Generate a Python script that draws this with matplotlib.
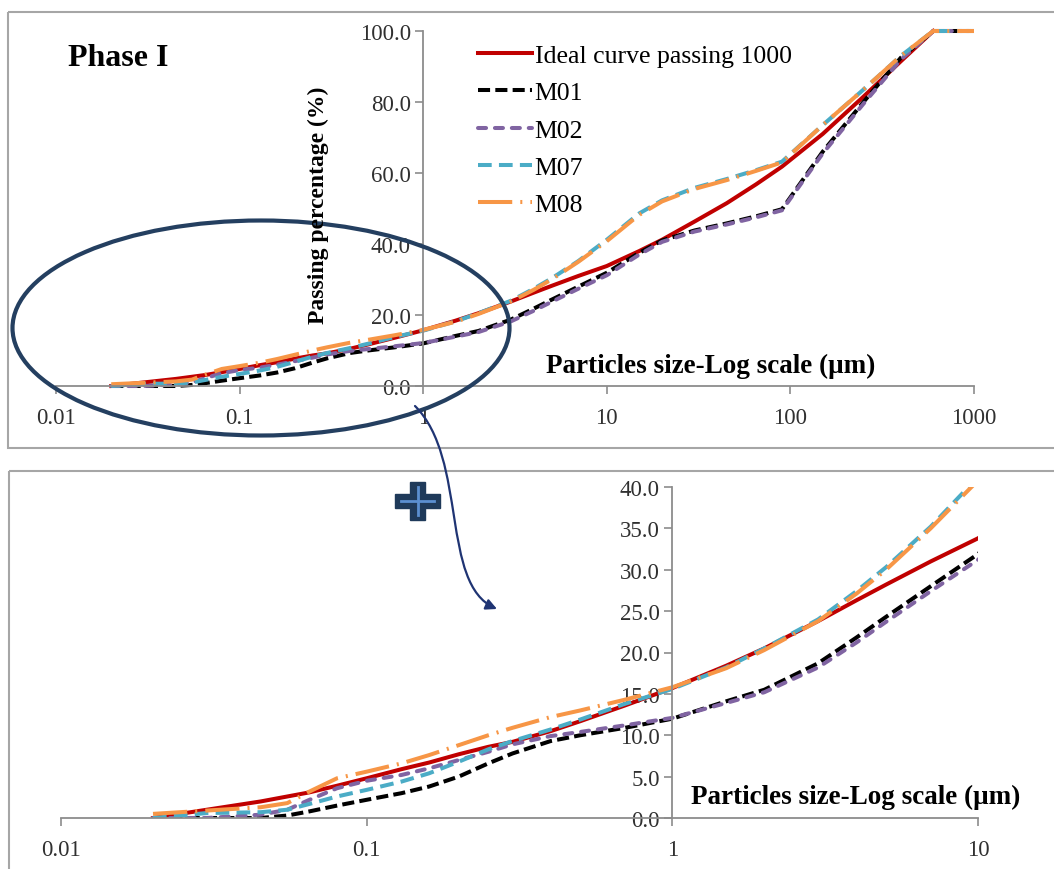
import matplotlib
matplotlib.use("Agg")
import matplotlib.pyplot as plt
from matplotlib.patches import Ellipse, Rectangle, FancyArrowPatch, Polygon
from matplotlib.path import Path
from matplotlib.ticker import NullLocator

plt.rcParams['font.family'] = ['Liberation Serif', 'DejaVu Serif']

W, H = 1054, 870

# particle size classes (um) and passing percentages
size_um = [0.02, 0.03, 0.045, 0.055, 0.065, 0.08, 0.1, 0.13, 0.16, 0.2, 0.25,
           0.3, 0.4, 0.5, 0.7, 1, 1.5, 2, 3, 4, 5, 7, 10, 15, 20, 30, 45, 65,
           90, 150, 250, 400, 600, 1000]
size_ideal = size_um[:-1]

ideal = [0.0, 1.0, 2.0, 2.6, 3.1, 3.9, 4.8, 5.9, 6.7, 7.7, 8.6, 9.2, 10.5,
         11.7, 13.6, 15.7, 18.4, 20.5, 23.8, 26.3, 28.2, 31.0, 33.8, 38.0,
         41.2, 46.3, 51.5, 56.8, 61.8, 71.0, 81.5, 91.5, 100.0]
m01 = [0.0, 0.0, 0.0, 0.3, 0.8, 1.5, 2.2, 3.0, 3.8, 5.0, 6.6, 7.8, 9.3, 10.0,
       10.9, 12.0, 14.1, 15.5, 18.7, 21.8, 24.3, 28.0, 31.9, 37.5, 41.0, 43.8,
       45.8, 47.8, 49.8, 66.0, 80.0, 92.5, 100.0, 100.0]
m02 = [0.0, 0.0, 0.4, 1.0, 2.2, 3.6, 4.5, 5.2, 6.0, 7.0, 8.0, 8.9, 9.9, 10.4,
       11.2, 12.1, 13.9, 15.2, 18.2, 21.2, 23.7, 27.4, 31.2, 37.0, 40.6, 43.5,
       45.5, 47.5, 49.5, 65.5, 79.5, 92.0, 100.0, 100.0]
m07 = [0.0, 0.6, 0.7, 1.0, 1.7, 2.6, 3.4, 4.4, 5.4, 6.8, 8.3, 9.3, 10.7, 11.9,
       13.8, 15.6, 18.2, 20.5, 24.0, 27.4, 30.3, 35.2, 41.2, 48.6, 52.3, 55.8,
       58.3, 60.8, 63.2, 73.5, 83.5, 93.0, 100.0, 100.0]
m08 = [0.5, 0.9, 1.3, 1.8, 3.2, 4.8, 5.6, 6.6, 7.6, 8.8, 10.0, 10.9, 12.2,
       13.0, 14.3, 15.8, 18.1, 20.3, 23.8, 27.1, 30.0, 35.0, 40.8, 48.2, 52.0,
       55.5, 58.0, 60.6, 63.0, 73.5, 83.5, 93.0, 100.0, 100.0]

series = [
    ('Ideal curve passing 1000', size_ideal, ideal, '#C00000', '-'),
    ('M01', size_um, m01, '#000000', (0, (3.0, 1.3))),
    ('M02', size_um, m02, '#8064A2', (0, (2.0, 2.2))),
    ('M07', size_um, m07, '#4BACC6', (0, (3.4, 1.8))),
    ('M08', size_um, m08, '#F79646', (0, (8.5, 2.0, 0.5, 2.0))),
]

top_ticks = [0.01, 0.1, 1, 10, 100, 1000]
top_labels = ['0.01', '0.1', '1', '10', '100', '1000']
bot_ticks = [0.01, 0.1, 1, 10]
bot_labels = ['0.01', '0.1', '1', '10']
top_yticks = [0, 20, 40, 60, 80, 100]
bot_yticks = [0, 5, 10, 15, 20, 25, 30, 35, 40]

fig = plt.figure(figsize=(W / 100, H / 100), dpi=100)
fig.patch.set_facecolor('white')


def px_axes(left, top, right, bottom):
    return fig.add_axes([left / W, 1 - bottom / H, (right - left) / W, (bottom - top) / H])


ax1 = px_axes(56, 32, 974, 387)
ax2 = px_axes(61, 488, 978, 819)

for ax, clip in ((ax1, False), (ax2, True)):
    for name, xs, ys, col, ls in series:
        line, = ax.plot(xs, ys, color=col, lw=2.9, linestyle=ls, label=name,
                        clip_on=clip)
        if name == 'M02':
            line.set_dash_capstyle('round')

for ax, xt, xl, yt, xlim, ylim in ((ax1, top_ticks, top_labels, top_yticks, (0.01, 1000), (0, 100)),
                                   (ax2, bot_ticks, bot_labels, bot_yticks, (0.01, 10), (0, 40))):
    ax.set_xscale('log')
    ax.set_xlim(*xlim)
    ax.set_ylim(*ylim)
    ax.set_xticks(xt)
    ax.set_xticklabels(xl)
    ax.xaxis.set_minor_locator(NullLocator())
    ax.set_yticks(yt)
    ax.set_yticklabels([f'{v:.1f}' for v in yt])
    ax.patch.set_alpha(0)
    ax.spines['top'].set_visible(False)
    ax.spines['right'].set_visible(False)
    ax.spines['left'].set_position(('data', 1))
    for s in ('left', 'bottom'):
        ax.spines[s].set_color('#8C8C8C')
        ax.spines[s].set_linewidth(1.3)
    ax.tick_params(direction='out', length=6, width=1.2, color='#8C8C8C',
                   labelsize=16.5, labelcolor='#303030')
    ax.tick_params(axis='x', pad=9)
    ax.tick_params(axis='y', pad=3)

ax1.legend(loc='upper left', bbox_to_anchor=(478 / W, 1 - 45 / H),
           bbox_transform=fig.transFigure, frameon=False, fontsize=18.5,
           handlelength=2.1, handletextpad=0.1, labelspacing=0.56,
           borderpad=0, borderaxespad=0)

# overlay in pixel coordinates for frames, labels and annotation shapes
ov = fig.add_axes([0, 0, 1, 1])
ov.set_xlim(0, W)
ov.set_ylim(H, 0)
ov.axis('off')
ov.patch.set_alpha(0)

ov.add_patch(Rectangle((8, 13), W, 436, fill=False, ec='#A6A6A6', lw=1.5))
ov.add_patch(Rectangle((9, 472), W, 500, fill=False, ec='#A6A6A6', lw=1.5))

ov.text(68, 58, 'Phase I', fontsize=23, fontweight='bold', ha='left', va='center')
ov.text(318, 205, 'Passing percentage (%)', rotation=90, fontsize=17,
        fontweight='bold', ha='center', va='center')
ov.text(875, 366, 'Particles size-Log scale (\u03bcm)', fontsize=19.5,
        fontweight='bold', ha='right', va='center')
ov.text(1020, 797, 'Particles size-Log scale (\u03bcm)', fontsize=19.5,
        fontweight='bold', ha='right', va='center')

navy = '#243F60'
ov.add_patch(Ellipse((261, 329), 497, 215, fill=False, ec=navy, lw=3.0))

arrow_path = Path([(415, 407), (468, 460), (440, 585), (497, 610)],
                  [Path.MOVETO, Path.CURVE4, Path.CURVE4, Path.CURVE4])
ov.add_patch(FancyArrowPatch(path=arrow_path, arrowstyle='-|>', mutation_scale=16,
                             color='#1F3473', lw=1.6))

cross = [(410, 483), (425, 483), (425, 495), (440, 495), (440, 509), (425, 509),
         (425, 521), (410, 521), (410, 509), (395, 509), (395, 495), (410, 495)]
ov.add_patch(Polygon(cross, closed=True, fc='#1F3A5A', ec='#1F3A5A', lw=1))
ov.plot([401, 434], [502, 502], color='#5B8FD0', lw=2)
ov.plot([417.5, 417.5], [488, 516], color='#5B8FD0', lw=2)

fig.savefig('out.png', dpi=100)
